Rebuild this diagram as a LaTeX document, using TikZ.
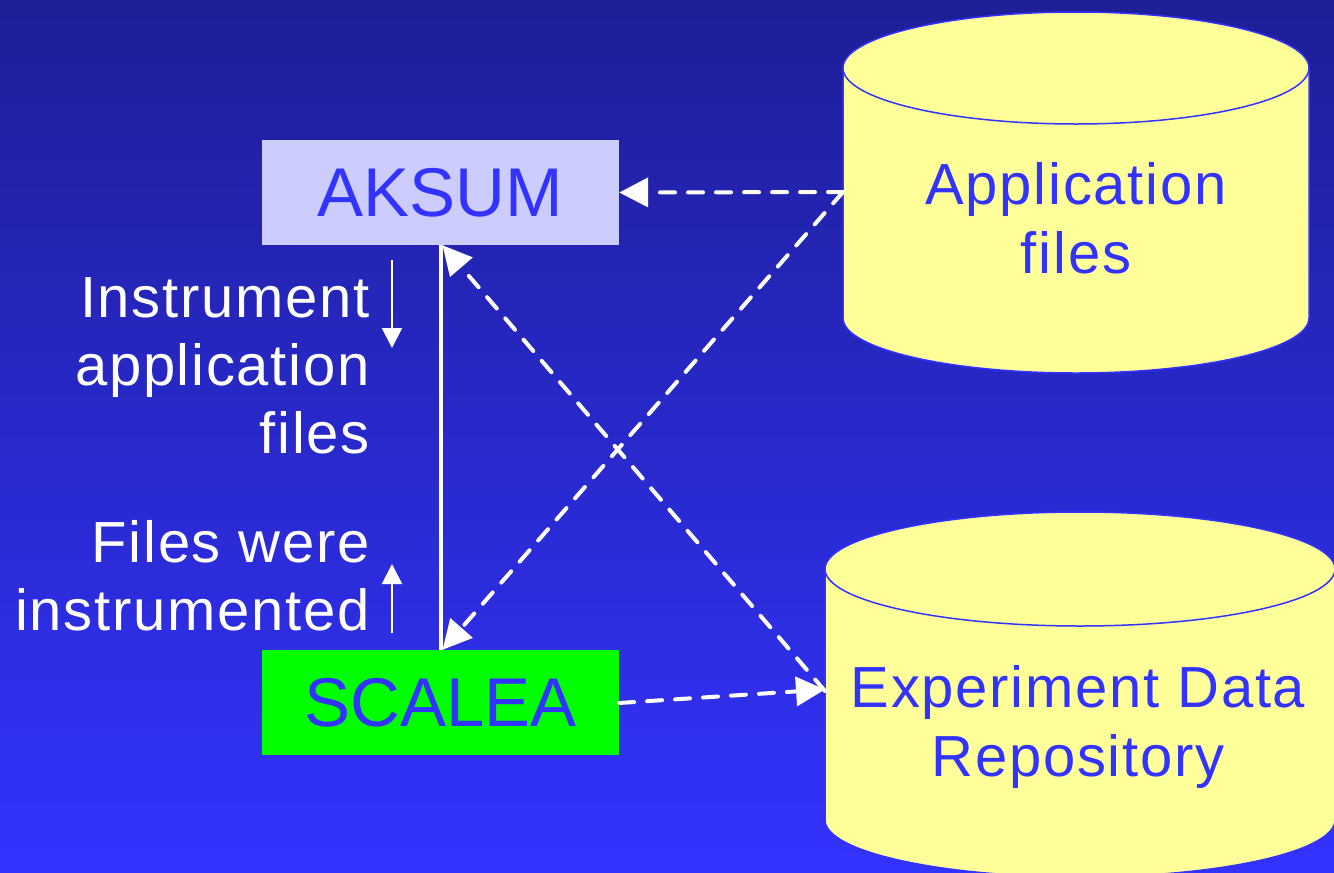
\documentclass[tikz,border=0pt]{standalone}
\usepackage{fontspec}
\setmainfont{Liberation Sans}[LetterSpace=3]
\newfontfamily\boxfont{Liberation Sans}
\usetikzlibrary{arrows.meta}
\definecolor{bgtop}{RGB}{30,30,150}
\definecolor{bgbot}{RGB}{51,51,255}
\definecolor{txtblue}{RGB}{51,51,255}
\definecolor{cylfill}{RGB}{255,255,153}
\definecolor{aksumfill}{RGB}{204,204,255}
\definecolor{scaleafill}{RGB}{0,255,0}
\tikzset{
  boxnode/.style={inner sep=0pt, minimum width=357pt, minimum height=105pt, text=txtblue,
    font=\boxfont\fontsize{69}{80}\selectfont},
  lbl/.style={inner sep=0pt, text=white, align=right, font=\fontsize{58}{68}\selectfont},
  cyltext/.style={inner sep=0pt, text=txtblue, align=center, font=\fontsize{58}{69}\selectfont},
  cyl/.style={fill=cylfill, draw=txtblue, line width=1.5pt},
  dasharrow/.style={draw=white, line width=4pt, line cap=round, dash pattern=on 15pt off 13pt,
    -{Triangle[length=29pt,width=29pt]}},
  smallarrow/.style={draw=white, line width=2pt, -{Triangle[length=20pt,width=20pt]}},
  solidlink/.style={draw=white, line width=4pt}
}
\begin{document}
\begin{tikzpicture}[x=1pt,y=-1pt]
\useasboundingbox (0,0) rectangle (1334,873);
\shade[top color=bgtop, bottom color=bgbot] (0,0) rectangle (1334,873);

% Application files cylinder
\path[cyl] (843,68) -- (843,318) arc[start angle=180, end angle=0, x radius=233, y radius=55]
  -- (1309,68) arc[start angle=0, end angle=-180, x radius=233, y radius=56] -- cycle;
\draw[draw=txtblue, line width=1.5pt] (843,68) arc[start angle=180, end angle=0, x radius=233, y radius=56];
\coordinate (app-w) at (843,192);
\node[cyltext, anchor=north] (apptext) at (1076,162) {Application\\files};

% Experiment Data Repository cylinder
\path[cyl] (825,569) -- (825,820) arc[start angle=180, end angle=0, x radius=255, y radius=57]
  -- (1335,569) arc[start angle=0, end angle=-180, x radius=255, y radius=57] -- cycle;
\draw[draw=txtblue, line width=1.5pt] (825,569) arc[start angle=180, end angle=0, x radius=255, y radius=57];
\coordinate (edr-w) at (825,691);
\node[cyltext, anchor=north] (edrtext) at (1078,665) {Experiment Data\\Repository};

% Boxes
\node[boxnode, fill=aksumfill] (aksum) at (440.5,192.5) {AKSUM};
\node[boxnode, fill=scaleafill] (scalea) at (440.5,702.5) {SCALEA};

% Labels
\node[lbl, anchor=north east] (instr) at (370,277) {Instrument\\application\\files};
\node[lbl, anchor=north east] (wereinstr) at (370,520) {Files were\\instrumented};

% Small arrows
\coordinate (down-s) at (392,260);
\coordinate (down-e) at (392,348);
\coordinate (up-s) at (392,633);
\coordinate (up-e) at (392,564);
\draw[smallarrow] (down-s) -- (down-e);
\draw[smallarrow] (up-s) -- (up-e);

% Connectors
\draw[solidlink] (aksum.south) -- (scalea.north);
\draw[dasharrow] (app-w) -- (aksum.east);
\draw[dasharrow] (app-w) -- ([xshift=2pt]scalea.north);
\draw[dasharrow] (edr-w) -- ([xshift=2pt]aksum.south);
\draw[dasharrow] ([yshift=-0.5pt]scalea.east) -- ([yshift=1.5pt]edr-w);
\end{tikzpicture}
\end{document}
